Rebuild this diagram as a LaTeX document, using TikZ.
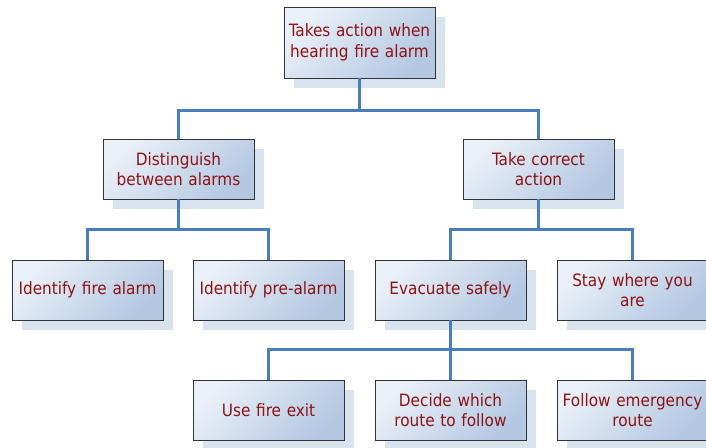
\documentclass[tikz,border=0pt]{standalone}
\usepackage{fontspec}
\setmainfont{DejaVu Sans Condensed}
\usetikzlibrary{shadows}
\definecolor{boxlight}{HTML}{EAF0F8}
\definecolor{boxdark}{HTML}{B4C8E2}
\definecolor{shadowblue}{HTML}{D9E2EF}
\definecolor{linkblue}{HTML}{4A7EBB}
\definecolor{labelred}{HTML}{8C1414}
\begin{document}
\begin{tikzpicture}[
    x=1pt, y=-1pt,
    font=\fontsize{17}{20.5}\selectfont
]
\tikzset{
    taskbox/.style = {rectangle, draw=black!80, line width=0.8pt,
        minimum width=151pt, minimum height=60pt, inner sep=2pt,
        text width=147pt, align=center, text=labelred,
        top color=boxlight, bottom color=boxdark, shading angle=45,
        drop shadow={shadow xshift=10pt, shadow yshift=-10pt,
            fill=shadowblue, opacity=1}},
    link/.style = {draw=linkblue, line width=2.6pt}
}
\useasboundingbox (0,0) rectangle (706,447);
% top level
\node[taskbox, minimum height=71pt] at (359.5,42.5) (act) {Takes action when\\hearing fire alarm};
% second level
\node[taskbox] at (178.5,169) (dist) {Distinguish\\between alarms};
\node[taskbox] at (538.5,169) (take) {Take correct\\action};
% third level
\node[taskbox] at (87.5,290) (fire) {Identify fire alarm};
\node[taskbox] at (268.5,290) (pre) {Identify pre-alarm};
\node[taskbox] at (450.5,290) (evac) {Evacuate safely};
\node[taskbox] at (632.5,290) (stay) {Stay where you\\are};
% fourth level
\node[taskbox] at (268.5,410) (exit) {Use fire exit};
\node[taskbox] at (450.5,410) (route) {Decide which\\route to follow};
\node[taskbox] at (632.5,410) (follow) {Follow emergency\\route};
% connectors
\draw[link] (act.south) -- ++(0,32) -| (dist.north);
\draw[link] (act.south) -- ++(0,32) -| (take.north);
\draw[link] (dist.south) -- ++(0,30) -| (fire.north);
\draw[link] (dist.south) -- ++(0,30) -| (pre.north);
\draw[link] (take.south) -- ++(0,30) -| (evac.north);
\draw[link] (take.south) -- ++(0,30) -| (stay.north);
\draw[link] (evac.south) -- ++(0,29) -| (exit.north);
\draw[link] (evac.south) -- (route.north);
\draw[link] (evac.south) -- ++(0,29) -| (follow.north);
\end{tikzpicture}
\end{document}
